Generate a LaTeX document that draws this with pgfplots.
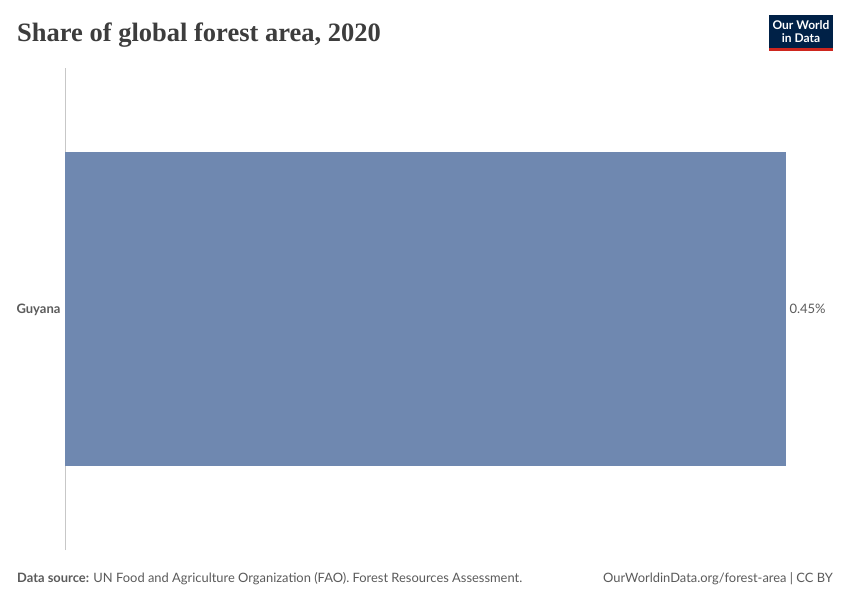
\documentclass[border=0pt]{standalone}
\usepackage{fontspec}
\setmainfont{Lato}
\newfontfamily\titlefont{Liberation Serif}
\usepackage{pgfplots}
\pgfplotsset{compat=1.18}
\definecolor{barc}{HTML}{6F88B0}
\definecolor{txt}{HTML}{5B5B5B}
\definecolor{ttl}{HTML}{3D3D3D}
\definecolor{navy}{HTML}{002147}
\definecolor{owred}{HTML}{CE261E}
\begin{document}
\begin{tikzpicture}[x=1pt,y=1pt]
\fill[white] (0,0) rectangle (850,600);
\node[anchor=base west, inner sep=0, text=ttl, font=\titlefont\bfseries\fontsize{26.5}{29}\selectfont] at (17,558) {Share of global forest area, 2020};
\fill[navy] (769,551) rectangle (833,585);
\fill[owred] (769,549) rectangle (833,551.5);
\node[align=center, inner sep=0, text=white, font=\bfseries\fontsize{12}{12.5}\selectfont] at (801,568.5) {Our World\\in Data};
\begin{axis}[
  at={(65pt,50pt)}, anchor=south west, scale only axis,
  width=721pt, height=482pt,
  xbar, xmin=0, xmax=0.45, ymin=-0.5, ymax=0.5,
  bar width=314pt, clip=false,
  axis x line=none, axis y line=left,
  y axis line style={-, draw=black!22, line width=0.8pt},
  ytick={0}, yticklabels={Guyana},
  major tick length=0pt,
  yticklabel style={font=\bfseries\fontsize{13}{15}\selectfont, text=txt, xshift=-1pt, yshift=-1pt},
  /pgf/number format/assume math mode=true,
  nodes near coords={\pgfmathprintnumber[fixed,fixed zerofill,precision=2,assume math mode=true]{\pgfplotspointmeta}\%},
  every node near coord/.append style={anchor=west, font=\fontsize{13}{15}\selectfont, text=txt, xshift=0pt},
]
\addplot[fill=barc, draw=none] coordinates {(0.45,0)};
\end{axis}
\node[anchor=base west, inner sep=0, text=txt, font=\fontsize{12.9}{15}\selectfont] at (17,18) {\textbf{Data source:} UN Food and Agriculture Organization (FAO). Forest Resources Assessment.};
\node[anchor=base east, inner sep=0, text=txt, font=\fontsize{12.9}{15}\selectfont] at (833,18) {OurWorldinData.org/forest-area | CC BY};
\end{tikzpicture}
\end{document}
